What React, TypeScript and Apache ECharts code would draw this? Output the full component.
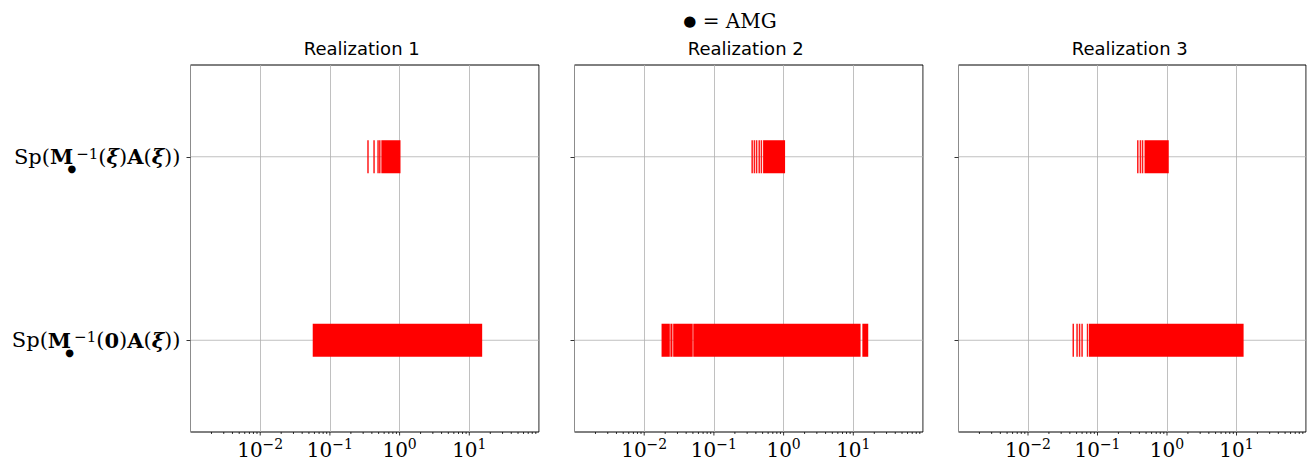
import React, { useEffect, useRef } from 'react';
import * as echarts from 'echarts';

// ---------- data ----------
const CATEGORIES = ['Sp(M•^-1(0)A(ξ))', 'Sp(M•^-1(ξ)A(ξ))'];
const PANEL_TITLES = ['Realization 1', 'Realization 2', 'Realization 3'];
const SUPTITLE_SYMBOL = '●';
const SUPTITLE_TEXT = ' = AMG';
const X_MIN = 0.001;
const X_MAX = 100;
const MAJOR_TICKS = [0.01, 0.1, 1, 10];
const MINOR_MANTISSAS = [2, 3, 4, 5, 6, 7, 8, 9];
const DECADES = [0.001, 0.01, 0.1, 1, 10];

// Realization 1
const r1BottomBands = [[0.0567, 15.3]];
const r1BottomLines: number[] = [];
const r1TopBands = [[0.547, 1.03]];
const r1TopLines = [0.352, 0.43, 0.491, 0.52];

// Realization 2
const r2BottomBands = [
  [0.01774, 0.0233],
  [0.02375, 0.02545],
  [0.02605, 0.04966],
  [0.0506, 12.71],
  [13.49, 16.38],
];
const r2BottomLines: number[] = [];
const r2TopBands = [[0.508, 1.05]];
const r2TopLines = [0.354, 0.381, 0.41, 0.447, 0.48];

// Realization 3
const r3BottomBands = [[0.0755, 12.65]];
const r3BottomLines = [0.0448, 0.0508, 0.0552, 0.06, 0.0719];
const r3TopBands = [[0.475, 1.06]];
const r3TopLines = [0.38, 0.414, 0.445];

const PANELS = [
  { bottomBands: r1BottomBands, bottomLines: r1BottomLines, topBands: r1TopBands, topLines: r1TopLines },
  { bottomBands: r2BottomBands, bottomLines: r2BottomLines, topBands: r2TopBands, topLines: r2TopLines },
  { bottomBands: r3BottomBands, bottomLines: r3BottomLines, topBands: r3TopBands, topLines: r3TopLines },
];

// ---------- styles / layout ----------
const SERIF = '"DejaVu Serif", serif';
const SANS = '"DejaVu Sans", sans-serif';
const RED = '#ff0000';
const GRID_COLOR = '#b0b0b0';
const GRID_LEFTS = [190.5, 574.5, 958.5];
const GRID_WIDTH = 348.5;
const GRID_TOP = 65;
const GRID_HEIGHT = 370;
const BAR_FRAC = 0.18;
const LINE_W = 1.5;

const Y_LABELS: Record<string, string> = {
  [CATEGORIES[0]]: '{n|Sp(}{b|M}{sub|●}{sup|−1}{n|(}{b|0}{n|)}{b|A}{n|(}{bi|ξ}{n|))}',
  [CATEGORIES[1]]: '{n|Sp(}{b|M}{sub|●}{sup|−1}{n|(}{bi|ξ}{n|)}{b|A}{n|(}{bi|ξ}{n|))}',
};

export default function App() {
  const ref = useRef<HTMLDivElement>(null);
  useEffect(() => {
    if (!ref.current) return;
    const chart = echarts.init(ref.current, undefined, { renderer: 'svg' });

    const minorTicks: number[] = [];
    DECADES.forEach((d) => MINOR_MANTISSAS.forEach((m) => minorTicks.push(+(m * d).toPrecision(3))));

    const grids: any[] = [];
    const xAxes: any[] = [];
    const yAxes: any[] = [];
    const series: any[] = [];
    const graphics: any[] = [];

    PANELS.forEach((p, i) => {
      grids.push({
        left: GRID_LEFTS[i], top: GRID_TOP, width: GRID_WIDTH, height: GRID_HEIGHT,
        show: true, borderColor: '#000', borderWidth: 1, backgroundColor: 'transparent',
      });
      xAxes.push({
        type: 'log', logBase: 10, gridIndex: i, min: X_MIN, max: X_MAX,
        axisLine: { show: false },
        axisTick: { show: false },
        splitLine: { show: true, lineStyle: { color: GRID_COLOR, width: 0.8 } },
        axisLabel: {
          margin: 7,
          formatter: (v: number) => {
            const e = Math.round(Math.log10(v));
            if (!MAJOR_TICKS.some((t) => Math.abs(Math.log10(t) - Math.log10(v)) < 1e-6)) return '';
            return `{n|10}{s|${e < 0 ? '−' + -e : e}}`;
          },
          rich: {
            n: { fontFamily: SERIF, fontSize: 20, lineHeight: 22, color: '#000' },
            s: { fontFamily: SERIF, fontSize: 14, lineHeight: 16, padding: [0, 0, 12, 0], color: '#000' },
          },
        },
      });
      yAxes.push({
        type: 'category', gridIndex: i, data: CATEGORIES, boundaryGap: true,
        axisLine: { show: false },
        axisTick: { show: true, alignWithLabel: true, length: 4, lineStyle: { color: '#000', width: 0.8 } },
        splitLine: { show: false },
        axisLabel: {
          show: i === 0, margin: 10,
          formatter: (v: string) => Y_LABELS[v],
          rich: {
            n: { fontFamily: SERIF, fontSize: 21, color: '#000' },
            b: { fontFamily: SERIF, fontSize: 21, fontWeight: 'bold', color: '#000' },
            bi: { fontFamily: SERIF, fontSize: 21, fontWeight: 'bold', fontStyle: 'italic', color: '#000' },
            sub: { fontFamily: SERIF, fontSize: 10, width: 3, padding: [24, 0, 0, 0], color: '#000' },
            sup: { fontFamily: SERIF, fontSize: 15, padding: [0, 0, 6, 0], color: '#000' },
          },
        },
      });

      // horizontal grid lines at category centres
      series.push({
        type: 'custom', xAxisIndex: i, yAxisIndex: i, silent: true, z: 1, clip: false,
        data: [[0], [1]],
        renderItem: (params: any, api: any) => {
          const cs = params.coordSys;
          const pt = api.coord([1, api.value(0)]);
          return {
            type: 'line',
            shape: { x1: cs.x, y1: pt[1], x2: cs.x + cs.width, y2: pt[1] },
            style: { stroke: GRID_COLOR, lineWidth: 0.8 },
          };
        },
      });

      // ticks on the x axis (major + minor)
      const tickData = [
        ...MAJOR_TICKS.map((t) => [t, 3.5]),
        ...minorTicks.filter((t) => t > X_MIN && t < X_MAX).map((t) => [t, 2]),
      ];
      series.push({
        type: 'custom', xAxisIndex: i, yAxisIndex: i, silent: true, z: 2, clip: false,
        data: tickData,
        renderItem: (params: any, api: any) => {
          const cs = params.coordSys;
          const pt = api.coord([api.value(0), 0]);
          const bottom = cs.y + cs.height;
          return {
            type: 'line',
            shape: { x1: pt[0], y1: bottom, x2: pt[0], y2: bottom + api.value(1) },
            style: { stroke: '#000', lineWidth: 0.8 },
          };
        },
      });

      // dense spectrum bands
      const bandData = [
        ...p.bottomBands.map((b) => [b[0], b[1], 0]),
        ...p.topBands.map((b) => [b[0], b[1], 1]),
      ];
      series.push({
        type: 'custom', xAxisIndex: i, yAxisIndex: i, silent: true, z: 3,
        data: bandData,
        renderItem: (params: any, api: any) => {
          const cat = api.value(2);
          const a = api.coord([api.value(0), cat]);
          const b = api.coord([api.value(1), cat]);
          const h = api.size([1, 1], [1, cat])[1] * BAR_FRAC;
          return {
            type: 'rect',
            shape: { x: a[0], y: a[1] - h / 2, width: b[0] - a[0], height: h },
            style: { fill: RED },
          };
        },
      });

      // isolated eigenvalues
      const lineData = [
        ...p.bottomLines.map((v) => [v, 0]),
        ...p.topLines.map((v) => [v, 1]),
      ];
      series.push({
        type: 'custom', xAxisIndex: i, yAxisIndex: i, silent: true, z: 3,
        data: lineData,
        renderItem: (params: any, api: any) => {
          const cat = api.value(1);
          const a = api.coord([api.value(0), cat]);
          const h = api.size([1, 1], [1, cat])[1] * BAR_FRAC;
          return {
            type: 'rect',
            shape: { x: a[0] - LINE_W / 2, y: a[1] - h / 2, width: LINE_W, height: h },
            style: { fill: RED, opacity: 0.9 },
          };
        },
      });

      graphics.push({
        type: 'text', x: GRID_LEFTS[i] + GRID_WIDTH / 2 - 3, y: 48,
        style: { text: PANEL_TITLES[i], fontFamily: SANS, fontSize: 18, fill: '#000', align: 'center', verticalAlign: 'middle' },
      });
    });

    graphics.push({
      type: 'text', x: 730, y: 21,
      style: {
        text: `{b|${SUPTITLE_SYMBOL}}{t|${SUPTITLE_TEXT}}`,
        align: 'center', verticalAlign: 'middle',
        rich: {
          b: { fontFamily: SERIF, fontSize: 15, fill: '#000' },
          t: { fontFamily: SERIF, fontSize: 20, fill: '#000' },
        },
      },
    });

    chart.setOption({
      animation: false,
      backgroundColor: '#fff',
      grid: grids,
      xAxis: xAxes,
      yAxis: yAxes,
      series,
      graphic: graphics,
    });
    return () => chart.dispose();
  }, []);
  return <div ref={ref} style={{ position: 'fixed', left: 0, top: 0, width: 1309, height: 463 }} />;
}
